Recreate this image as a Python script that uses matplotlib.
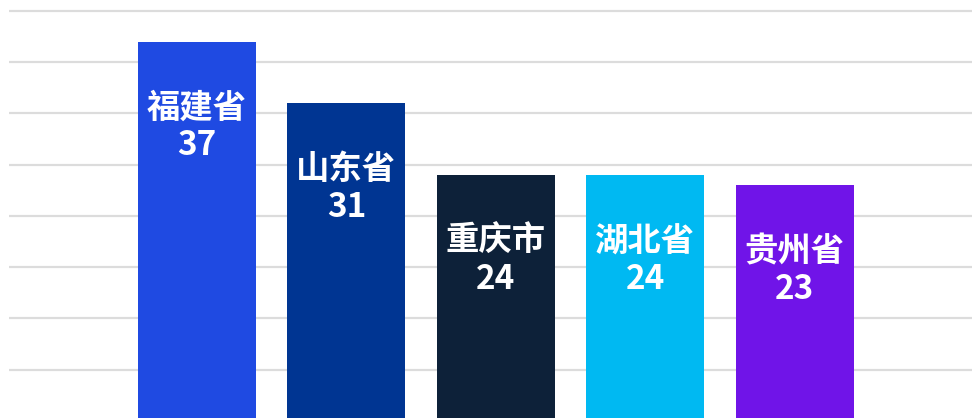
import matplotlib.pyplot as plt

plt.rcParams['font.family'] = ['Noto Sans CJK SC', 'DejaVu Sans']

provinces = ["福建省", "山东省", "重庆市", "湖北省", "贵州省"]
counts = [37, 31, 24, 24, 23]
colors = ["#1f4ae2", "#003592", "#0d2139", "#00b9f2", "#7014e8"]

fig = plt.figure(figsize=(9.72, 4.18), dpi=100)
# chart is cropped on the right and bottom, so the axes runs past the figure
ax = fig.add_axes([9 / 972, 0, 963 / 972, 1])
ax.set_xlim(-1.258, 5.187)
ax.set_ylim(0.28, 41.07)

x = list(range(len(provinces)))
ax.bar(x, counts, width=0.79, color=colors, zorder=2)

for y in range(5, 45, 5):
    ax.axhline(y, color="#dcdcdc", linewidth=1.6, zorder=1)

for i, (name, val) in enumerate(zip(provinces, counts)):
    ax.annotate(name, (i, val), xytext=(0, -48), textcoords="offset points",
                ha="center", va="center", color="white", fontsize=24,
                fontweight="bold")
    ax.annotate(str(val), (i, val), xytext=(0, -75), textcoords="offset points",
                ha="center", va="center", color="white", fontsize=24,
                fontweight="bold")

ax.axis("off")
fig.savefig("out.png", dpi=100)
